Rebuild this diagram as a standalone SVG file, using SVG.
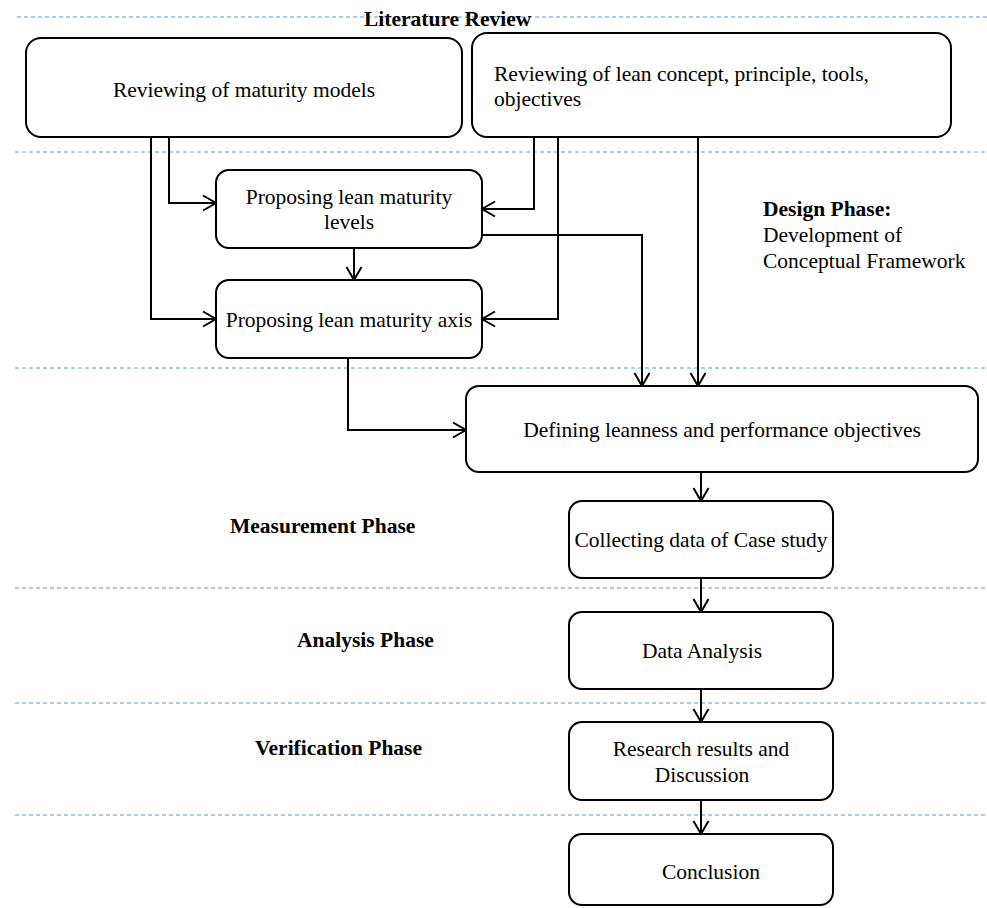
<svg xmlns="http://www.w3.org/2000/svg" width="987" height="908" viewBox="0 0 987 908">
<style>
.bg{fill:#ffffff}
.sep{stroke:#5b9bd5;stroke-width:1;stroke-dasharray:4 3;fill:none}
.box{fill:#ffffff;stroke:#000000;stroke-width:2}
.t{font-family:"Liberation Serif","Times New Roman",serif;font-size:21.5px;fill:#000000}
.c{text-anchor:middle}
.b{font-weight:bold}
.con{fill:none;stroke:#000000;stroke-width:2}
</style>
<defs>
<marker id="arr" markerUnits="userSpaceOnUse" viewBox="-15 -10 17 20" refX="0" refY="0" markerWidth="17" markerHeight="20" orient="auto">
<path d="M-13,-7.5 L0,0 L-13,7.5" fill="none" stroke="#000000" stroke-width="2"/>
</marker>
</defs>
<rect class="bg" x="0" y="0" width="987" height="908"/>
<g id="separators">
<line class="sep" x1="17" y1="17" x2="987" y2="17"/>
<line class="sep" x1="15" y1="152" x2="987" y2="152"/>
<line class="sep" x1="15" y1="368" x2="987" y2="368"/>
<line class="sep" x1="15" y1="588" x2="987" y2="588"/>
<line class="sep" x1="15" y1="703" x2="987" y2="703"/>
<line class="sep" x1="15" y1="815" x2="987" y2="815"/>
</g>
<g id="phase-labels">
<text class="t b" x="364" y="26">Literature Review</text>
<text class="t b" x="763" y="216">Design Phase:</text>
<text class="t" x="763" y="242">Development of</text>
<text class="t" x="763" y="268">Conceptual Framework</text>
<text class="t b" x="230" y="533">Measurement Phase</text>
<text class="t b" x="297" y="647">Analysis Phase</text>
<text class="t b" x="255" y="755">Verification Phase</text>
</g>
<g id="connectors">
<path class="con" d="M169,137 V203 H216" marker-end="url(#arr)"/>
<path class="con" d="M151,137 V319 H216" marker-end="url(#arr)"/>
<path class="con" d="M534,137 V209 H482" marker-end="url(#arr)"/>
<path class="con" d="M558,137 V319 H482" marker-end="url(#arr)"/>
<path class="con" d="M698,137 V386" marker-end="url(#arr)"/>
<path class="con" d="M482,235 H642 V386" marker-end="url(#arr)"/>
<path class="con" d="M354,248 V280" marker-end="url(#arr)"/>
<path class="con" d="M348,358 V430 H466" marker-end="url(#arr)"/>
<path class="con" d="M701,472 V501" marker-end="url(#arr)"/>
<path class="con" d="M701,578 V612" marker-end="url(#arr)"/>
<path class="con" d="M701,689 V722" marker-end="url(#arr)"/>
<path class="con" d="M701,800 V834" marker-end="url(#arr)"/>
</g>
<g id="node-maturity-models">
<rect class="box" x="26" y="38" width="436" height="99" rx="15"/>
<text class="t c" x="244" y="97">Reviewing of maturity models</text>
</g>
<g id="node-lean-concept">
<rect class="box" x="472" y="33" width="479" height="104" rx="15"/>
<text class="t" x="494" y="81">Reviewing of lean concept, principle, tools,</text>
<text class="t" x="494" y="106">objectives</text>
</g>
<g id="node-levels">
<rect class="box" x="216" y="170" width="266" height="78" rx="13"/>
<text class="t c" x="349" y="204">Proposing lean maturity</text>
<text class="t c" x="349" y="229">levels</text>
</g>
<g id="node-axis">
<rect class="box" x="216" y="280" width="266" height="78" rx="13"/>
<text class="t c" x="349" y="327">Proposing lean maturity axis</text>
</g>
<g id="node-defining">
<rect class="box" x="466" y="386" width="512" height="86" rx="13"/>
<text class="t c" x="722" y="437">Defining leanness and performance objectives</text>
</g>
<g id="node-collecting">
<rect class="box" x="569" y="501" width="264" height="77" rx="13"/>
<text class="t c" x="701" y="547">Collecting data of Case study</text>
</g>
<g id="node-analysis">
<rect class="box" x="569" y="612" width="264" height="77" rx="13"/>
<text class="t c" x="702" y="658">Data Analysis</text>
</g>
<g id="node-results">
<rect class="box" x="569" y="722" width="264" height="78" rx="13"/>
<text class="t c" x="701" y="756">Research results and</text>
<text class="t c" x="702" y="782">Discussion</text>
</g>
<g id="node-conclusion">
<rect class="box" x="569" y="834" width="264" height="71" rx="13"/>
<text class="t c" x="711" y="879">Conclusion</text>
</g>
</svg>
